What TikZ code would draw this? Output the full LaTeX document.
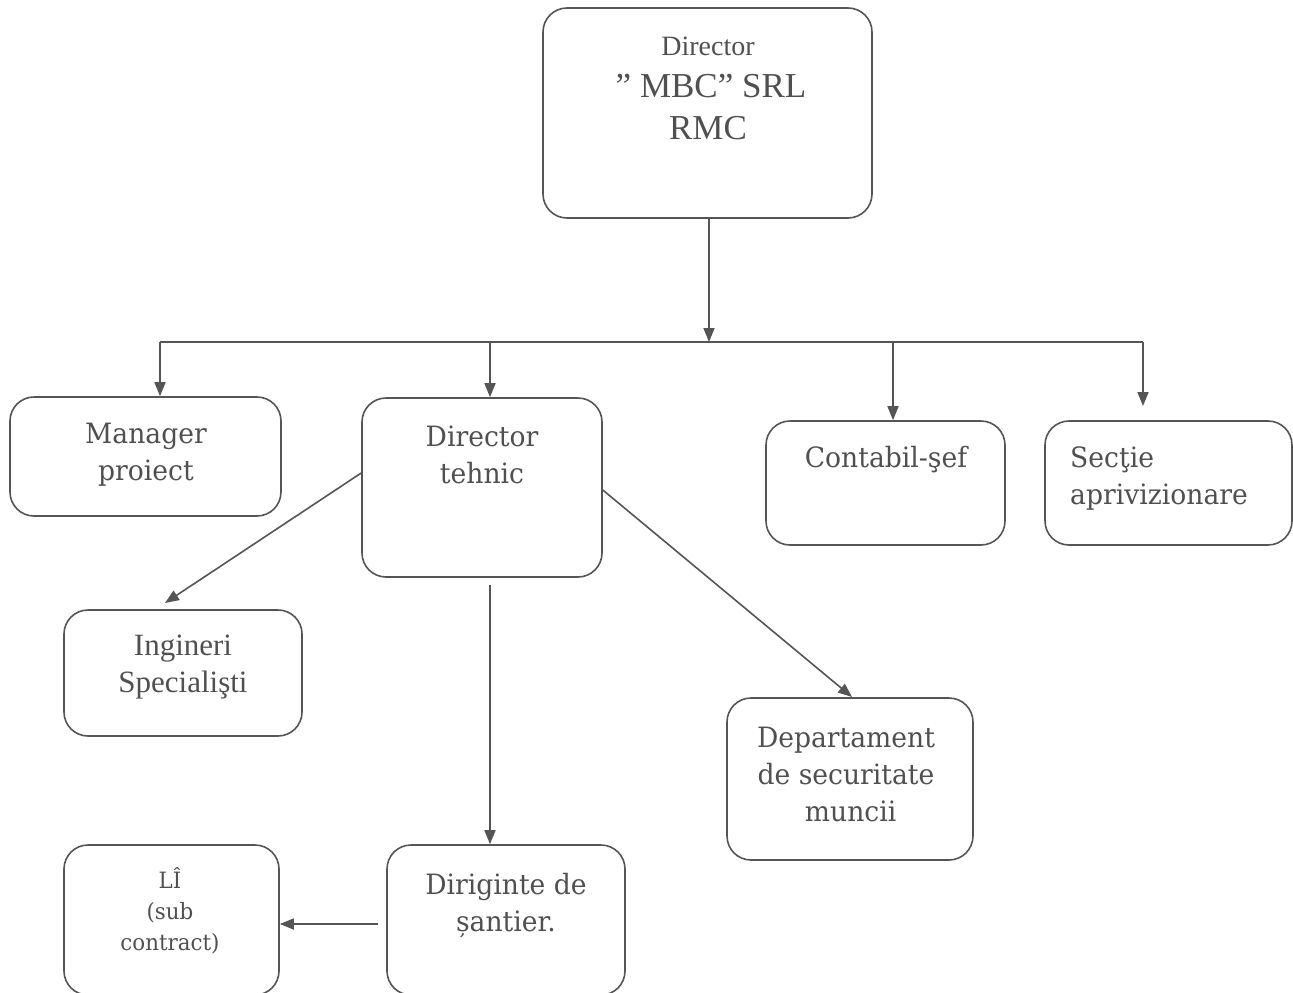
\documentclass[tikz,border=0pt]{standalone}
\usepackage{fontspec}
\setmainfont{Liberation Serif}
\newfontfamily\camb[FakeStretch=0.95]{DejaVu Serif}
\usetikzlibrary{arrows.meta}
\definecolor{ln}{HTML}{555555}
\definecolor{tx}{HTML}{505050}
\tikzset{
  box/.style={draw=ln, line width=1.6pt, rounded corners=24pt, inner sep=0pt},
  conn/.style={draw=ln, line width=1.6pt, -{Triangle[length=14pt,width=11pt]}},
  plain/.style={draw=ln, line width=1.6pt},
  lab/.style={text=tx, align=center, inner sep=0pt, anchor=base},
  cfont/.style={font=\camb\fontsize{28}{37}\selectfont},
}
\begin{document}
\begin{tikzpicture}[x=1pt,y=-1pt]
\useasboundingbox (0,0) rectangle (1293,993);
% boxes
\node[box, minimum width=329pt, minimum height=210pt] (top) at (707.5,113) {};
\node[box, minimum width=271pt, minimum height=119pt] (mgr) at (145.5,456.5) {};
\node[box, minimum width=240pt, minimum height=179pt] (dt) at (482,487.5) {};
\node[box, minimum width=239pt, minimum height=124pt] (cont) at (885.5,483) {};
\node[box, minimum width=247pt, minimum height=124pt] (sect) at (1168.5,483) {};
\node[box, minimum width=238pt, minimum height=126pt] (ing) at (183,673) {};
\node[box, minimum width=246pt, minimum height=162pt] (dep) at (850,779) {};
\node[box, minimum width=238pt, minimum height=150pt] (dir) at (506,920) {};
\node[box, minimum width=215pt, minimum height=150pt] (li) at (171.5,920) {};
% texts (multi-line nodes: base = last line's baseline)
\node[lab, font=\fontsize{28}{30}\selectfont] (t1) at (708,55) {Director};
\node[lab, font=\fontsize{35}{41}\selectfont] (t2) at (711,97) {” MBC” SRL};
\node[lab, font=\fontsize{35}{41}\selectfont] (t3) at (708,139) {RMC};
\node[lab, cfont] (tmgr) at (146,480) {Manager\\proiect};
\node[lab, cfont] (tdt) at (482,483) {Director\\tehnic};
\node[lab, cfont] (tcont) at (886,467) {Contabil-şef};
\node[lab, cfont, align=left, anchor=base west] (tsect) at (1070,504) {Secţie\\aprivizionare};
\node[lab, font=\fontsize{31}{37}\selectfont] (ting) at (183,692) {Ingineri\\Specialişti};
\node[lab, cfont] (tdep) at (846,821) {Departament\\de securitate\\\,\,muncii};
\node[lab, cfont] (tdir) at (506,931) {Diriginte de\\șantier.};
\node[lab, font=\camb\fontsize{22.5}{31}\selectfont] (tli) at (170,950) {LÎ\\(sub\\contract)};
% connectors
\coordinate (bus) at (709,342);
\coordinate (busL) at (160,342);
\coordinate (busR) at (1143,342);
\coordinate (secEnd) at (1143,406);
\coordinate (dtS) at (490,585);
\coordinate (dirW) at (378,924);
\draw[conn] (top.south -| bus) -- (bus);
\draw[plain] (busL) -- (busR);
\draw[conn] (busL) -- (mgr.north -| busL);
\draw[conn] (490,342) -- (dt.north -| dtS);
\draw[conn] (893,342) -- (cont.north -| 893,0);
\draw[conn] (busR) -- (secEnd);
\draw[conn] (dt.west |- 0,473) -- (165,603);
\draw[conn] (dt.east |- 0,490) -- (852,697);
\draw[conn] (dtS) -- (dir.north -| dtS);
\draw[conn] (dirW) -- (li.east |- dirW);
\end{tikzpicture}
\end{document}
